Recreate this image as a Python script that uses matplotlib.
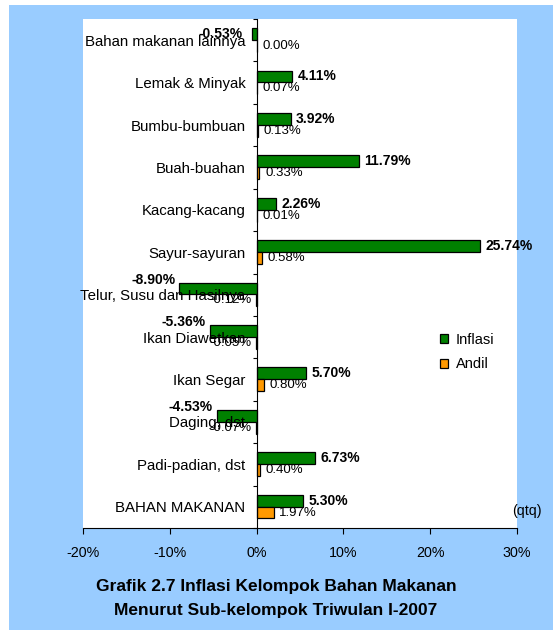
import numpy as np
import matplotlib
matplotlib.use("Agg")
import matplotlib.pyplot as plt
from matplotlib.patches import Rectangle, Patch

plt.rcParams['font.family'] = ['Liberation Sans', 'DejaVu Sans']

# bottom to top
categories = ["BAHAN MAKANAN", "Padi-padian, dst", "Daging, dst", "Ikan Segar",
              "Ikan Diawetkan", "Telur, Susu dan Hasilnya", "Sayur-sayuran",
              "Kacang-kacang", "Buah-buahan", "Bumbu-bumbuan", "Lemak & Minyak",
              "Bahan makanan lainnya"]
inflasi = [5.30, 6.73, -4.53, 5.70, -5.36, -8.90, 25.74, 2.26, 11.79, 3.92, 4.11, -0.53]
andil = [1.97, 0.40, -0.07, 0.80, -0.05, -0.12, 0.58, 0.01, 0.33, 0.13, 0.07, 0.00]
xticks = [-20, -10, 0, 10, 20, 30]

green = "#008000"
orange = "#FF9900"
blue_bg = "#99CCFF"

W, H = 553, 630
fig = plt.figure(figsize=(W / 100, H / 100), dpi=100, facecolor="white")
fig.patches.append(Rectangle((9 / W, 0), 1 - 9 / W, 1 - 5 / H,
                             transform=fig.transFigure, facecolor=blue_bg,
                             edgecolor="none", zorder=-10))

ax = fig.add_axes([83 / W, (H - 528) / H, 434 / W, 509 / H])
ax.set_facecolor("white")

y = np.arange(len(categories))
h = 0.28
ax.barh(y + 0.145, inflasi, height=h, color=green, edgecolor="black", linewidth=0.9, label="Inflasi")
ax.barh(y - 0.135, andil, height=h, color=orange, edgecolor="black", linewidth=0.9, label="Andil")

ax.set_xlim(-20, 30)
ax.set_ylim(-0.5, len(categories) - 0.5)

# value labels
for i, v in enumerate(inflasi):
    txt = "%.2f%%" % v
    if v >= 0:
        ax.annotate(txt, (v, i + 0.145), xytext=(4, 0), textcoords="offset points",
                    ha="left", va="center", fontsize=10, fontweight="bold")
    elif v > -1:
        ax.annotate(txt, (v, i + 0.145), xytext=(-7, 0), textcoords="offset points",
                    ha="right", va="center", fontsize=10, fontweight="bold")
    else:
        ax.annotate(txt, (v, i + 0.145 + h / 2), xytext=(-3, 2), textcoords="offset points",
                    ha="right", va="center", fontsize=10, fontweight="bold")

for i, v in enumerate(andil):
    txt = "%.2f%%" % v
    if v >= 0:
        ax.annotate(txt, (v, i - 0.135), xytext=(4, 0), textcoords="offset points",
                    ha="left", va="center", fontsize=9.5)
    else:
        ax.annotate(txt, (v, i - 0.135), xytext=(-3, 0), textcoords="offset points",
                    ha="right", va="center", fontsize=9.5)

# axes styling
for s in ["top", "right"]:
    ax.spines[s].set_visible(False)
ax.spines["left"].set_position(("data", 0))
ax.spines["left"].set_zorder(5)

ax.set_yticks(y)
ax.set_yticklabels(categories, fontsize=10.8)
ax.tick_params(axis="y", which="major", length=0, pad=8)
ax.set_yticks(np.arange(-0.5, len(categories), 1), minor=True)
ax.tick_params(axis="y", which="minor", length=3, direction="out", width=0.8)

ax.set_xticks(xticks)
ax.set_xticklabels(["%d%%" % t for t in xticks], fontsize=10.3)
ax.tick_params(axis="x", length=4, direction="out", pad=9, width=0.8)

handles = [Patch(facecolor=green, edgecolor="black", linewidth=0.9),
           Patch(facecolor=orange, edgecolor="black", linewidth=0.9)]
ax.legend(handles, ["Inflasi", "Andil"], loc="upper left",
          bbox_to_anchor=(0.822, 0.384), frameon=False, fontsize=10.5,
          handlelength=0.6, handleheight=0.6, handletextpad=0.5,
          labelspacing=0.75, borderpad=0, borderaxespad=0)

fig.text(512 / W, 1 - 511 / H, "(qtq)", fontsize=10.3, ha="left", va="center")

fig.text(276 / W, 1 - 587 / H, "Grafik 2.7 Inflasi Kelompok Bahan Makanan",
         fontsize=12.5, fontweight="bold", ha="center", va="center")
fig.text(276 / W, 1 - 611 / H, "Menurut Sub-kelompok Triwulan I-2007",
         fontsize=12.5, fontweight="bold", ha="center", va="center")

fig.savefig("out.png", dpi=100, facecolor=fig.get_facecolor())
